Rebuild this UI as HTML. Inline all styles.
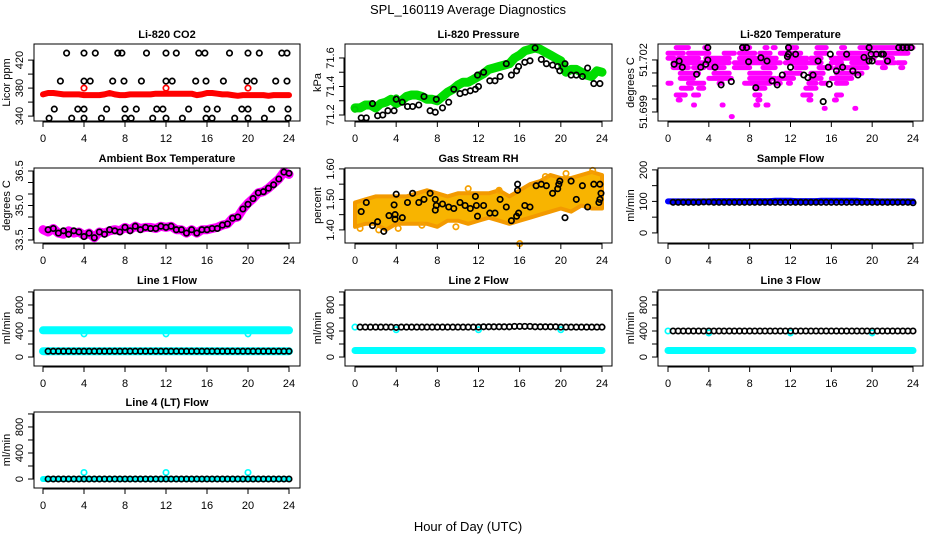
<!DOCTYPE html>
<html><head><meta charset="utf-8"><title>SPL_160119 Average Diagnostics</title>
<style>
html,body{margin:0;padding:0;background:#fff;}
svg{display:block;font-family:"Liberation Sans",Arial,sans-serif;}
</style></head>
<body>
<svg id="chart" width="936" height="540" viewBox="0 0 936 540" xmlns="http://www.w3.org/2000/svg">
<rect width="936" height="540" fill="#fff"/>
<text x="468" y="14" font-size="13" text-anchor="middle">SPL_160119  Average Diagnostics</text>
<text x="468" y="531" font-size="13" text-anchor="middle">Hour of Day (UTC)</text>
</svg>
<script>
const T = [0,0.5,1,1.5,2,2.5,3,3.5,4,4.5,5,5.5,6,6.5,7,7.5,8,8.5,9,9.5,10,10.5,11,11.5,12,12.5,13,13.5,14,14.5,15,15.5,16,16.5,17,17.5,18,18.5,19,19.5,20,20.5,21,21.5,22,22.5,23,23.5,24];
const H = [0,1,2,3,4,5,6,7,8,9,10,11,12,13,14,15,16,17,18,19,20,21,22,23,24];
const xTicks = [0,4,8,12,16,20,24];

const co2Red = [371,373,373,372,371,371,371,371,370,370,370,370,371,373,371,370,370,371,371,371,371,371,372,372,372,372,372,372,372,372,370,371,373,373,372,371,371,370,369,370,370,370,370,370,369,370,370,370,370];
const co2BlackX = [2.3,4,5.1,7.3,7.7,10.1,12,13,15.2,15.8,18.2,20,21.1,23.3,23.8, 1.7,4,4.6,6.8,7.9,9.6,12,12.6,14.9,15.9,17.6,19.9,20.6,22.7,23.8, 1.1,3.4,4,6.2,8,9.1,11.1,11.7,14.2,16,17,19.4,20,22.3,23.9, 0.6,2.8,4,5.7,8,8.6,10.7,12,13.6,15.9,16.5,18.7,20,21.6,23.9];
const co2BlackY = [430,430,430,430,430,430,430,430,430,430,430,430,430,430,430, 390,390,390,390,390,390,390,390,390,390,390,390,390,390,390, 350,350,350,350,350,350,350,350,350,350,350,350,350,350,350, 337,337,337,337,337,337,337,337,337,337,337,337,337,337,337];
const co2OutX = [4,12,20];
const co2OutY = [380,380,380];

const pressGreen = [71.25,71.25,71.27,71.27,71.25,71.28,71.29,71.31,71.28,71.30,71.33,71.34,71.34,71.33,71.31,71.31,71.30,71.33,71.36,71.38,71.41,71.43,71.43,71.45,71.47,71.49,71.52,71.53,71.54,71.55,71.56,71.60,71.62,71.65,71.66,71.67,71.66,71.64,71.62,71.60,71.58,71.50,71.52,71.52,71.50,71.48,71.47,71.51,71.50];
const pressBlackX = [0.6,1.1,1.7,2.2,2.7,3.2,3.8,4,4.6,5.1,5.6,6.2,6.7,7.3,7.8,7.9,8.5,9.1,9.6,10.2,10.7,11.2,11.7,11.9,12.0,12.5,13.1,13.6,14.1,14.7,15.2,15.7,15.9,16.5,17,17.5,18.1,18.6,19.2,19.7,19.9,20.4,21,21.5,22.1,22.6,23.2,23.8];
const pressBlackY = [71.18,71.18,71.28,71.195,71.20,71.23,71.23,71.31,71.29,71.26,71.26,71.27,71.33,71.23,71.22,71.31,71.25,71.29,71.38,71.35,71.36,71.37,71.38,71.48,71.40,71.50,71.44,71.44,71.47,71.56,71.48,71.51,71.54,71.57,71.58,71.67,71.59,71.56,71.55,71.54,71.51,71.56,71.48,71.48,71.47,71.53,71.42,71.42];
const pressOutX = [0,4,12];
const pressOutY = [71.24,71.32,71.47];

const tempBandLevel = [51.70271,51.70239,51.7021,51.70184,51.70156,51.70123,51.70094,51.70066,51.70037,51.69998,51.69969,51.6994,51.69921,51.69873];
const tempBandRanges = [
 [[0.8,2.0],[3.6,3.8],[7.2,8.0],[9.5,9.7],[10.3,10.5],[11.8,12.6],[14.6,15.5],[17.0,17.3],[18.8,24]],
 [[0,1.5],[2,4],[5.5,6.5],[7,8.5],[9,10],[11,13],[14.5,15.5],[16.7,19.5],[20,23.5]],
 [[0,0.6],[1,3],[3.7,6],[7,10.6],[11.7,13.6],[14,15],[16,19.2],[19.7,20.2],[21.3,22]],
 [[0.5,1.5],[1.6,4],[4.3,6],[6.5,11],[11.5,15],[16,17],[18,19.5],[20.5,22.2],[22.5,23.2]],
 [[0.5,2],[2.5,3.5],[4,5.5],[6.5,8],[9.3,10.5],[12.5,13.5],[14.8,16],[16.5,19.5],[21,21.3],[22.8,23]],
 [[1.2,3],[4.5,6],[8,10],[11.5,13],[14,15.2],[16.5,19]],
 [[1.2,2.5],[4,6.2],[8,10.5],[10.8,12.3],[14,15],[16,18]],
 [[0,0.3],[2,3.5],[5,5.3],[7.5,10],[10.5,11],[11.8,12],[13.8,14.5],[15,15.5],[16.5,17.5]],
 [[1.3,2.3],[3,3.5],[8.5,9.5],[13.5,14.5]],
 [[0.8,1.7],[2.5,3],[8.5,9],[13.2,14],[16.5,17]],
 [[1,1.2],[8.8,9.0],[13.8,14],[16.3,16.5]],
 [[2.5,2.6],[5.3,5.4],[8.6,8.8],[9.6,9.8]],
 [[15.3,15.4],[18.3,18.4]],
 [[6.2,6.3]]
];
const tempBlackX = [0.6,1.1,1.4,2.8,3.2,3.7,3.9,3.9,4.6,5.2,6.2,7.3,7.7,7.9,8.6,9.1,9.7,10.2,10.7,11.2,11.7,11.8,11.8,12,12.5,13.3,13.7,14.2,14.7,15.2,15.7,15.8,15.9,16.5,17.1,17.5,18.1,18.6,19.2,19.7,19.7,19.9,20.0,20.4,20.9,21.1,21.5,22.6,23,23.4,23.8];
const tempBlackY = [51.70175,51.70194,51.70158,51.70117,51.70158,51.70175,51.702,51.70271,51.70158,51.70056,51.70075,51.70271,51.70271,51.7019,51.7004,51.70213,51.70194,51.70079,51.70056,51.70113,51.70219,51.70271,51.70233,51.70158,51.70233,51.70113,51.70098,51.70113,51.70194,51.6996,51.70158,51.7006,51.70233,51.70137,51.70158,51.70233,51.70137,51.70113,51.70215,51.70271,51.70194,51.70233,51.70194,51.70233,51.70233,51.70233,51.70194,51.70271,51.70271,51.70271,51.70271];

const ambMagenta = [33.95,33.85,34.0,33.8,33.75,33.9,33.8,33.85,33.7,33.8,33.6,33.85,33.8,33.9,33.95,33.9,34.05,33.95,34.1,34.0,34.05,34.05,34.0,34.1,34.05,34.1,33.95,33.95,33.8,33.95,33.8,33.95,33.95,34.0,34.05,34.15,34.2,34.45,34.5,34.85,35.1,35.3,35.55,35.6,35.75,35.95,36.15,36.45,36.35];
const ambBlack = [null,33.95,34.0,33.8,33.9,33.75,33.9,33.85,33.65,33.8,33.6,33.85,33.75,33.95,33.9,33.85,34.05,33.9,34.1,33.95,34.05,34.0,34.0,34.1,34.05,34.1,33.95,33.95,33.8,33.95,33.8,33.95,33.95,34.0,34.0,34.15,34.2,34.45,34.5,34.85,35.05,35.3,35.55,35.6,35.75,35.9,36.15,36.45,36.4];

const rhLo = [1.41,1.42,1.42,1.40,1.42,1.42,1.42,1.42,1.41,1.43,1.43,1.42,1.43,1.44,1.43,1.42,1.43,1.44,1.45,1.46,1.47,1.46,1.48,1.47,1.47];
const rhHi = [1.49,1.50,1.51,1.51,1.51,1.51,1.52,1.53,1.52,1.51,1.52,1.52,1.52,1.52,1.53,1.51,1.53,1.55,1.56,1.58,1.57,1.57,1.58,1.59,1.58];
const rhOutX = [16,20.5,23.1,18.5,14,11,4.2,6.5,2.3,0.5,9.8];
const rhOutY = [1.355,1.585,1.595,1.575,1.53,1.535,1.405,1.415,1.4,1.405,1.41];
const rhBlackX = [0.6,1.1,1.7,2.2,2.8,3.3,3.8,3.9,3.9,4,4.6,5.1,5.6,6.2,6.7,7.3,7.8,7.8,7.9,8.5,9.1,9.6,10.2,10.7,11.2,11.7,11.8,11.9,12.5,13.1,13.6,14.1,14.7,15.2,15.7,15.8,15.8,15.9,16.5,17,17.6,18.1,18.6,19.2,19.7,19.8,19.9,20.4,21,21.5,22.1,22.6,23.2,23.7,23.8,23.8,23.9];
const rhBlackY = [1.46,1.49,1.414,1.427,1.395,1.447,1.482,1.45,1.435,1.517,1.44,1.49,1.52,1.49,1.50,1.52,1.50,1.465,1.48,1.485,1.475,1.47,1.49,1.48,1.47,1.51,1.48,1.445,1.48,1.455,1.455,1.50,1.475,1.43,1.445,1.55,1.53,1.455,1.48,1.475,1.545,1.55,1.545,1.52,1.535,1.55,1.56,1.44,1.56,1.50,1.545,1.475,1.55,1.49,1.55,1.50,1.52];

const sampBlue = [100,100,100,100,100,100,100,100,100,101,101,101,101,101,101,101,101,101,101,101,101,102,102,102,102,101,101,101,101,101,102,102,102,102,102,102,102,102,101,101,101,100,100,100,100,100,100,100,100];
const sampBlack = [null,97,97,97,97,97,97,98,98,97,97,97,97,97,97,97,97,97,97,97,97,97,97,97,97,97,97,97,97,97,97,97,97,97,97,97,97,97,97,97,97,97,97,97,97,97,97,97,96];

const l1Cyan = [410,410,410,410,410,410,410,410,410,410,410,410,410,410,410,410,410,410,410,410,410,410,410,410,410,410,410,410,410,410,410,410,410,410,410,410,410,410,410,410,410,410,410,410,410,410,410,410,410];
const l1CyanLo = [90,90,90,90,90,90,90,90,90,90,90,90,90,90,90,90,90,90,90,90,90,90,90,90,90,90,90,90,90,90,90,90,90,90,90,90,90,90,90,90,90,90,90,90,90,90,90,90,90];
const l1Black = [null,90,90,90,90,90,90,90,90,90,90,90,90,90,90,90,90,90,90,90,90,90,90,90,90,90,90,90,90,90,90,90,90,90,90,90,90,90,90,90,90,90,90,90,90,90,90,90,90];
const l1DipX = [4,12,20];
const l1DipY = [355,355,355];

const l2CyanLo = [100,100,100,100,100,100,100,100,100,100,100,100,100,100,100,100,100,100,100,100,100,100,100,100,100,100,100,100,100,100,100,100,100,100,100,100,100,100,100,100,100,100,100,100,100,100,100,100,100];
const l2Black = [null,460,460,460,460,460,460,460,455,460,460,460,460,460,460,460,460,460,460,460,460,460,460,460,460,465,465,465,465,465,465,470,470,470,470,465,465,465,465,465,460,460,460,460,460,460,460,460,460];
const l2CyanPtX = [0,4,12,20];
const l2CyanPtY = [460,420,420,420];

const l3CyanLo = [100,100,100,100,100,100,100,100,100,100,100,100,100,100,100,100,100,100,100,100,100,100,100,100,100,100,100,100,100,100,100,100,100,100,100,100,100,100,100,100,100,100,100,100,100,100,100,100,100];
const l3Black = [null,400,400,400,400,400,400,400,400,400,400,400,400,400,400,400,400,400,400,400,400,400,400,400,400,400,400,400,400,400,400,400,400,400,400,400,400,400,400,400,400,400,400,400,400,400,400,400,400];
const l3CyanPtX = [0,4,12,20];
const l3CyanPtY = [400,370,370,370];

const l4Cyan = [0,0,0,0,0,0,0,0,0,0,0,0,0,0,0,0,0,0,0,0,0,0,0,0,0,0,0,0,0,0,0,0,0,0,0,0,0,0,0,0,0,0,0,0,0,0,0,0,0];
const l4Black = [null,0,0,0,0,0,0,0,0,0,0,0,0,0,0,0,0,0,0,0,0,0,0,0,0,0,0,0,0,0,0,0,0,0,0,0,0,0,0,0,0,0,0,0,0,0,0,0,0];
const l4BlipX = [4,12,20];
const l4BlipY = [100,100,100];

const NS = "http://www.w3.org/2000/svg";
const svg = document.getElementById("chart");
const COLS = [{b0:34,b1:300,x0:43,x1:289},{b0:345,b1:612,x0:355,x1:602},{b0:658,b1:923,x0:668,x1:913}];
const ROWS = [[44,121],[168,243],[290,366],[412,488]];

function mk(tag, attrs, parent){
  const e = document.createElementNS(NS, tag);
  for (const k in attrs) e.setAttribute(k, attrs[k]);
  (parent||svg).appendChild(e);
  return e;
}

function panel(key, title, ytitle, col, row, ymin, ymax, yticks, ylabels, fmt){
  const c = COLS[col], r = ROWS[row];
  const g = mk("g", {});
  
  
  const xs = v => c.x0 + (v/24)*(c.x1-c.x0);
  const ys = v => r[1] - (v-ymin)/(ymax-ymin)*(r[1]-r[0]);
  const plot = mk("g", {}, g);
  
  
  const frame = mk("g", {}, g);
  const box = mk("rect", {x:c.b0, y:r[0], width:c.b1-c.b0, height:r[1]-r[0], fill:"none", stroke:"#000", "stroke-width":1}, frame);
  
  
  const tt = mk("text", {x:(c.b0+c.b1)/2, y:r[0]-6, "font-size":11, "font-weight":"bold", "text-anchor":"middle"}, frame);
  tt.textContent = title;
  
  
  const xa = mk("g", {}, frame);
  
  
  mk("line", {x1:xs(0), x2:xs(24), y1:r[1]+1, y2:r[1]+1, stroke:"#000"}, xa);
  xTicks.forEach(t => {
    mk("line", {x1:xs(t), x2:xs(t), y1:r[1], y2:r[1]+6, stroke:"#000"}, xa);
    const l = mk("text", {x:xs(t), y:r[1]+21, "font-size":11, "text-anchor":"middle"}, xa);
    l.textContent = t;
    
    
  });
  const ya = mk("g", {}, frame);
  
  
  mk("line", {x1:c.b0-1, x2:c.b0-1, y1:ys(yticks[0]), y2:ys(yticks[yticks.length-1]), stroke:"#000"}, ya);
  yticks.forEach(t => {
    mk("line", {x1:c.b0-6, x2:c.b0, y1:ys(t), y2:ys(t), stroke:"#000"}, ya);
  });
  ylabels.forEach(t => {
    const y = ys(t), x = c.b0-11;
    const l = mk("text", {x:x, y:y, "font-size":11, "text-anchor":"middle", transform:`rotate(-90 ${x} ${y})`}, ya);
    l.textContent = fmt ? fmt(t) : t;
    
    
  });
  const yx = c.b0-24, yy = (r[0]+r[1])/2;
  const yt = mk("text", {x:yx, y:yy, "font-size":11, "text-anchor":"middle", transform:`rotate(-90 ${yx} ${yy})`}, g);
  yt.textContent = ytitle;
  
  
  return {xs, ys, plot, r};
}

function line(p, xv, yv, color, w, name){
  let d = "";
  xv.forEach((x,i) => { if (yv[i] == null) return; d += (d ? "L" : "M") + p.xs(x).toFixed(1) + " " + p.ys(yv[i]).toFixed(1); });
  const e = mk("path", {d:d, fill:"none", stroke:color, "stroke-width":w, "stroke-linejoin":"round", "stroke-linecap":"round"}, p.plot);
  
  
}
function pts(p, xv, yv, color, name, rr){
  const g = mk("g", {}, p.plot);
  
  
  xv.forEach((x,i) => {
    if (yv[i] == null) return;
    const e = mk("circle", {cx:p.xs(x).toFixed(1), cy:p.ys(yv[i]).toFixed(1), r:rr||2.7, fill:"none", stroke:color, "stroke-width":1.7}, g);
    
    
  });
}

// CO2
let p = panel("co2", "Li-820 CO2", "Licor ppm", 0, 0, 333, 443, [340,360,380,400,420], [340,380,420]);
pts(p, co2BlackX, co2BlackY, "#000", "co2-black-series");
line(p, T, co2Red, "#ff0000", 6, "co2-red-series");
pts(p, co2OutX, co2OutY, "#ff0000", "co2-red-outliers");

// Pressure
p = panel("pressure", "Li-820 Pressure", "kPa", 1, 0, 71.158, 71.698, [71.2,71.3,71.4,71.5,71.6], [71.2,71.4,71.6], v => v.toFixed(1));
line(p, T, pressGreen, "#00dd00", 9, "pressure-green-series");
pts(p, pressOutX, pressOutY, "#00cc00", "pressure-green-outliers");
pts(p, pressBlackX, pressBlackY, "#000", "pressure-black-series");

// Temperature
p = panel("li820-temp", "Li-820 Temperature", "degrees C", 2, 0, 51.69848, 51.70292, [51.699,51.69975,51.7005,51.70125,51.702], [51.699,51.702], v => v.toFixed(3));
{
  const g = mk("g", {}, p.plot);
  
  
  tempBandLevel.forEach((lv, i) => {
    tempBandRanges[i].forEach(rg => {
      const e = mk("line", {x1:p.xs(rg[0]), x2:p.xs(rg[1]), y1:p.ys(lv), y2:p.ys(lv), stroke:"#ff00ff", "stroke-width":5, "stroke-linecap":"round"}, g);
      
      
    });
  });
}
pts(p, tempBlackX, tempBlackY, "#000", "li820-temp-black-series");

// Ambient
p = panel("ambient", "Ambient Box Temperature", "degrees C", 0, 1, 33.37, 36.63, [33.5,34,34.5,35,35.5,36,36.5], [33.5,35,36.5], v => v.toFixed(1));
line(p, T, ambMagenta, "#ff00ff", 9, "ambient-magenta-series");
pts(p, T, ambBlack, "#000", "ambient-black-series");

// RH
p = panel("rh", "Gas Stream RH", "percent", 1, 1, 1.357, 1.603, [1.40,1.45,1.50,1.55,1.60], [1.40,1.50,1.60], v => v.toFixed(2));
{
  let d = "";
  H.forEach((h,i) => { d += (i ? "L" : "M") + p.xs(h).toFixed(1) + " " + p.ys(rhHi[i]).toFixed(1); });
  for (let i = H.length-1; i >= 0; i--) d += "L" + p.xs(H[i]).toFixed(1) + " " + p.ys(rhLo[i]).toFixed(1);
  const e = mk("path", {d:d+"Z", fill:"#f8b400", stroke:"#f39a00", "stroke-width":4, "stroke-linejoin":"round"}, p.plot);
  
  
}
pts(p, rhOutX, rhOutY, "#f5a000", "rh-orange-outliers");
pts(p, rhBlackX, rhBlackY, "#000", "rh-black-series");

// Sample flow
p = panel("sample-flow", "Sample Flow", "ml/min", 2, 1, -32, 206, [0,50,100,150,200], [0,100,200]);
line(p, T, sampBlue, "#0000ff", 6, "sample-flow-blue-series");
pts(p, T, sampBlack, "#000", "sample-flow-black-series");

const FT = [0,200,400,600,800,1000], FL = [0,400,800];
// Line 1
p = panel("line1", "Line 1 Flow", "ml/min", 0, 2, -138, 1030, FT, FL);
line(p, T, l1Cyan, "#00ffff", 8, "line1-cyan-upper-series");
pts(p, l1DipX, l1DipY, "#00ffff", "line1-cyan-dips");
line(p, T, l1CyanLo, "#00ffff", 8, "line1-cyan-lower-series");
pts(p, T, l1Black, "#000", "line1-black-series");

// Line 2
p = panel("line2", "Line 2 Flow", "ml/min", 1, 2, -138, 1030, FT, FL);
line(p, T, l2CyanLo, "#00ffff", 7, "line2-cyan-series");
pts(p, l2CyanPtX, l2CyanPtY, "#00ffff", "line2-cyan-points");
pts(p, T, l2Black, "#000", "line2-black-series");

// Line 3
p = panel("line3", "Line 3 Flow", "ml/min", 2, 2, -138, 1030, FT, FL);
line(p, T, l3CyanLo, "#00ffff", 7, "line3-cyan-series");
pts(p, l3CyanPtX, l3CyanPtY, "#00ffff", "line3-cyan-points");
pts(p, T, l3Black, "#000", "line3-black-series");

// Line 4
p = panel("line4", "Line 4 (LT) Flow", "ml/min", 0, 3, -138, 1030, FT, FL);
line(p, T, l4Cyan, "#00ffff", 6, "line4-cyan-series");
pts(p, l4BlipX, l4BlipY, "#00ffff", "line4-cyan-blips");
pts(p, T, l4Black, "#000", "line4-black-series");
</script>
</body></html>
